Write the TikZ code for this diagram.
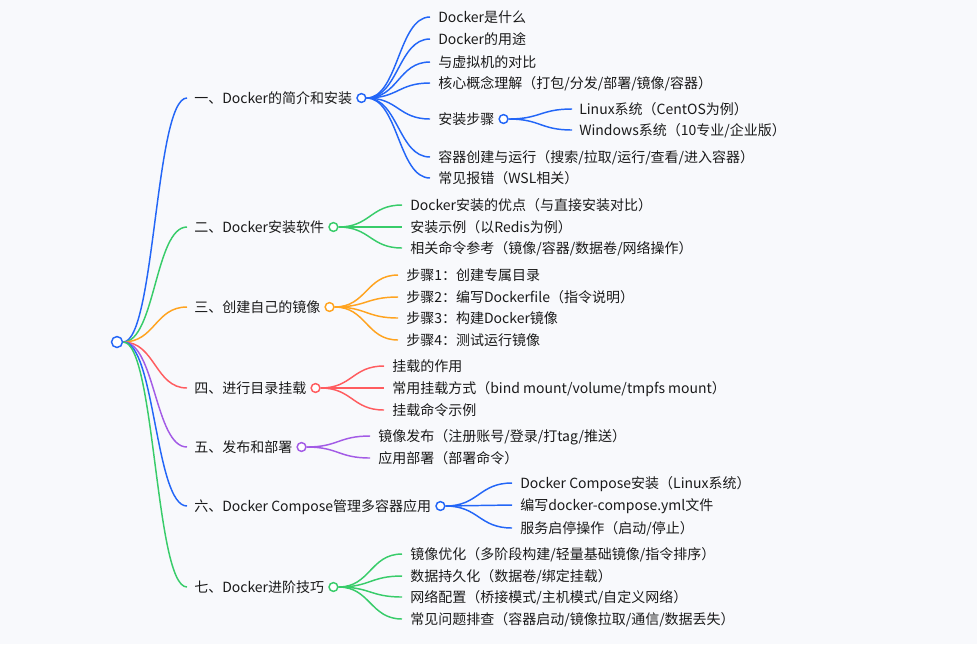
\documentclass[tikz,border=0pt]{standalone}
\usepackage{fontspec}
\setmainfont{Noto Sans CJK SC}
\usetikzlibrary{calc}
\definecolor{bg}{HTML}{F8F9FC}
\definecolor{txt}{HTML}{1A1A1A}
\definecolor{cblue}{HTML}{2366F7}
\definecolor{cgreen}{HTML}{38CC6A}
\definecolor{corange}{HTML}{FFA31F}
\definecolor{cred}{HTML}{FF5C5F}
\definecolor{cpurple}{HTML}{A35BE6}
\tikzset{
  lbl/.style={anchor=base west, inner sep=0pt, text=txt, font=\fontsize{10.5pt}{12pt}\selectfont},
  hub/.style={circle, draw=#1, fill=white, line width=1.1pt, inner sep=0pt, minimum size=6.6pt},
  roothub/.style={circle, draw=#1, fill=white, line width=1.1pt, inner sep=0pt, minimum size=8.2pt},
  link/.style={draw=#1, line width=1.1pt, to path={let \p1=(\tikztostart), \p2=(\tikztotarget), \p3=($(\tikztostart)!0.5!(\tikztotarget)$) in .. controls (\x3,\y1) and (\x3,\y2) .. (\tikztotarget)}},
}
\begin{document}
\begin{tikzpicture}[x=0.75pt,y=-0.75pt]
\fill[bg] (0,0) rectangle (977,644);
\useasboundingbox (0,0) rectangle (977,644);

% root
\node[roothub=cblue] (R) at (117,342) {};

% main branches
\node[lbl] (B1) at (194,103) {一、Docker的简介和安装};
\node[lbl] (B2) at (194,232) {二、Docker安装软件};
\node[lbl] (B3) at (194,312) {三、创建自己的镜像};
\node[lbl] (B4) at (194,393) {四、进行目录挂载};
\node[lbl] (B5) at (194,452) {五、发布和部署};
\node[lbl] (B6) at (194,511) {六、Docker Compose管理多容器应用};
\node[lbl] (B7) at (194,592) {七、Docker进阶技巧};

\node[hub=cblue]   (H1) at ($(B1.base east)+(9,-5)$) {};
\node[hub=cgreen]  (H2) at ($(B2.base east)+(9,-5)$) {};
\node[hub=corange] (H3) at ($(B3.base east)+(9,-5)$) {};
\node[hub=cred]    (H4) at ($(B4.base east)+(9,-5)$) {};
\node[hub=cpurple] (H5) at ($(B5.base east)+(9,-5)$) {};
\node[hub=cblue]   (H6) at ($(B6.base east)+(9,-5)$) {};
\node[hub=cgreen]  (H7) at ($(B7.base east)+(9,-5)$) {};

\draw[link=cblue]   (R.east) to ($(B1.base west)+(-7,-5)$);
\draw[link=cgreen]  (R.east) to ($(B2.base west)+(-7,-5)$);
\draw[link=corange] (R.east) to ($(B3.base west)+(-7,-5)$);
\draw[link=cred]    (R.east) to ($(B4.base west)+(-7,-5)$);
\draw[link=cpurple] (R.east) to ($(B5.base west)+(-7,-5)$);
\draw[link=cblue]   (R.east) to ($(B6.base west)+(-7,-5)$);
\draw[link=cgreen]  (R.east) to ($(B7.base west)+(-7,-5)$);

% branch 1 children
\foreach \yy/\t [count=\i] in {17/{Docker是什么}, 39/{Docker的用途}, 62/{与虚拟机的对比}, 83/{核心概念理解（打包/分发/部署/镜像/容器）}, 119/{安装步骤}, 157/{容器创建与运行（搜索/拉取/运行/查看/进入容器）}, 178/{常见报错（WSL相关）}}{
  \node[lbl] (A\i) at (438,\yy+5) {\t};
  \draw[link=cblue] (H1.east) to ($(A\i.base west)+(-8,-5)$);
}
\node[hub=cblue] (H1s) at ($(A5.base east)+(9,-5)$) {};
\node[lbl] (S1) at (579,114) {Linux系统（CentOS为例）};
\node[lbl] (S2) at (579,135) {Windows系统（10专业/企业版）};
\draw[link=cblue] (H1s.east) to ($(S1.base west)+(-7,-5)$);
\draw[link=cblue] (H1s.east) to ($(S2.base west)+(-7,-5)$);

% branch 2 children
\foreach \yy/\t [count=\i] in {205/{Docker安装的优点（与直接安装对比）}, 227/{安装示例（以Redis为例）}, 248/{相关命令参考（镜像/容器/数据卷/网络操作）}}{
  \node[lbl] (C\i) at (410,\yy+5) {\t};
  \draw[link=cgreen] (H2.east) to ($(C\i.base west)+(-8,-5)$);
}

% branch 3 children
\foreach \yy/\t [count=\i] in {275/{步骤1：创建专属目录}, 297/{步骤2：编写Dockerfile（指令说明）}, 318/{步骤3：构建Docker镜像}, 340/{步骤4：测试运行镜像}}{
  \node[lbl] (D\i) at (406,\yy+5) {\t};
  \draw[link=corange] (H3.east) to ($(D\i.base west)+(-8,-5)$);
}

% branch 4 children
\foreach \yy/\t [count=\i] in {366/{挂载的作用}, 388/{常用挂载方式（bind mount/volume/tmpfs mount）}, 410/{挂载命令示例}}{
  \node[lbl] (E\i) at (392,\yy+5) {\t};
  \draw[link=cred] (H4.east) to ($(E\i.base west)+(-8,-5)$);
}

% branch 5 children
\foreach \yy/\t [count=\i] in {436/{镜像发布（注册账号/登录/打tag/推送）}, 458/{应用部署（部署命令）}}{
  \node[lbl] (F\i) at (378,\yy+5) {\t};
  \draw[link=cpurple] (H5.east) to ($(F\i.base west)+(-8,-5)$);
}

% branch 6 children
\foreach \yy/\t [count=\i] in {483/{Docker Compose安装（Linux系统）}, 505/{编写docker-compose.yml文件}, 528/{服务启停操作（启动/停止）}}{
  \node[lbl] (G\i) at (520,\yy+5) {\t};
  \draw[link=cblue] (H6.east) to ($(G\i.base west)+(-8,-5)$);
}

% branch 7 children
\foreach \yy/\t [count=\i] in {554/{镜像优化（多阶段构建/轻量基础镜像/指令排序）}, 576/{数据持久化（数据卷/绑定挂载）}, 597/{网络配置（桥接模式/主机模式/自定义网络）}, 619/{常见问题排查（容器启动/镜像拉取/通信/数据丢失）}}{
  \node[lbl] (K\i) at (410,\yy+5) {\t};
  \draw[link=cgreen] (H7.east) to ($(K\i.base west)+(-8,-5)$);
}
\end{tikzpicture}
\end{document}
